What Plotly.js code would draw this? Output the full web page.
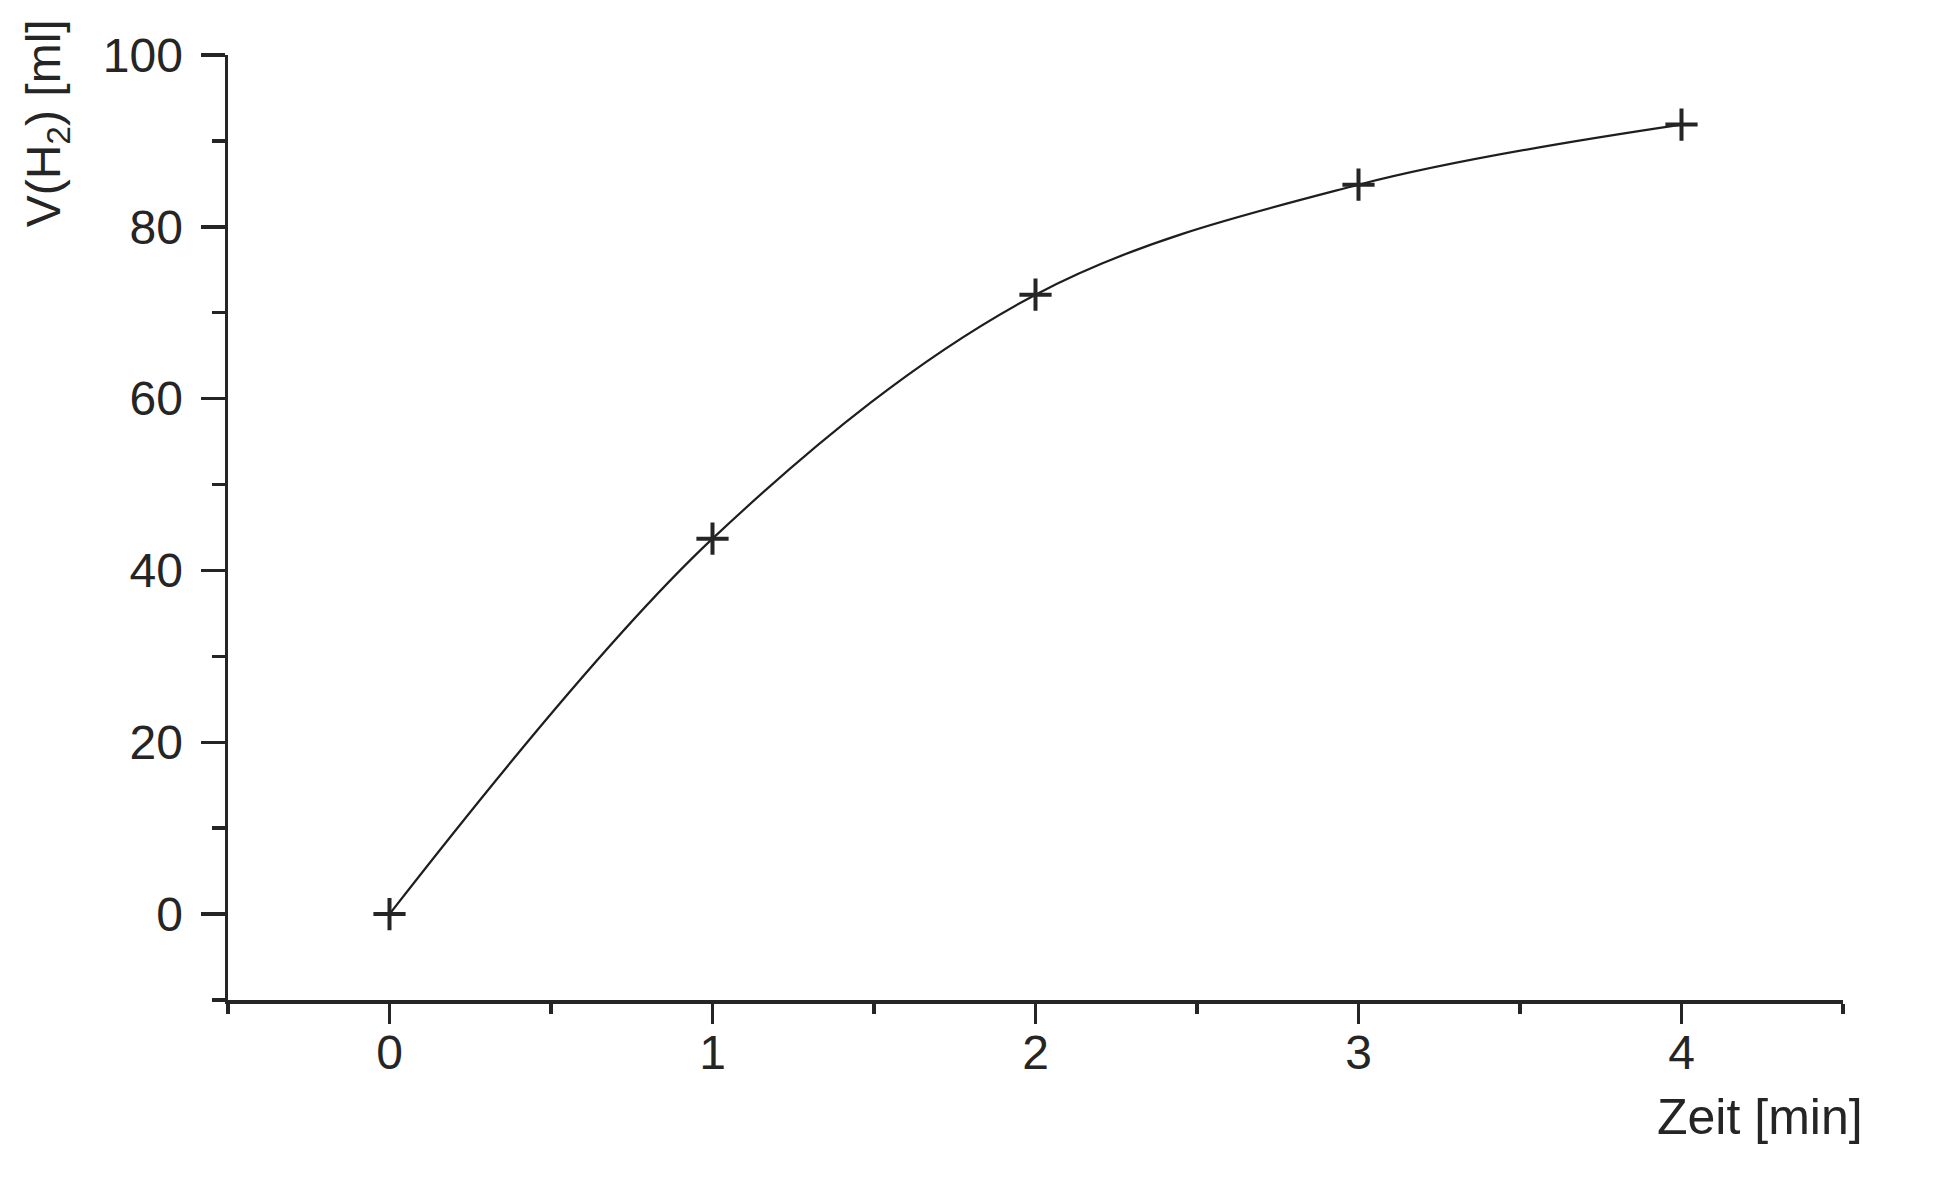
<!DOCTYPE html>
<html>
<head>
<meta charset="utf-8">
<script src="https://cdn.plot.ly/plotly-3.0.1.min.js"></script>
<style>
html,body{margin:0;padding:0;background:#fff;}
#chart{width:1936px;height:1184px;}
</style>
</head>
<body>
<div id="chart"></div>
<script>
const zeit = [0, 1, 2, 3, 4];
const volumen = [0, 43.7, 72.1, 84.9, 91.9];
const xTickVals = [0, 1, 2, 3, 4];
const yTickVals = [0, 20, 40, 60, 80, 100];
const xTitle = 'Zeit [min]';
const yTitle = 'V(H<sub>2</sub>) [ml]';

const ink = '#252525';
const font = 'Liberation Sans, Arial, sans-serif';

const trace = {
  x: zeit,
  y: volumen,
  type: 'scatter',
  mode: 'lines+markers',
  line: {shape: 'spline', smoothing: 1, color: '#1e1e1e', width: 2.2},
  marker: {symbol: 'cross-thin', size: 23, line: {color: ink, width: 4}, color: ink},
  hoverinfo: 'x+y'
};

const layout = {
  width: 1936,
  height: 1184,
  margin: {l: 228, r: 93, t: 55, b: 184},
  paper_bgcolor: '#fff',
  plot_bgcolor: '#fff',
  showlegend: false,
  font: {family: font, color: ink, size: 48},
  xaxis: {
    range: [-0.5, 4.5],
    tickvals: xTickVals,
    ticktext: xTickVals.map(String),
    ticks: 'outside',
    ticklen: 20,
    tickwidth: 3.5,
    tickcolor: ink,
    showline: true,
    linewidth: 3.5,
    linecolor: ink,
    showgrid: false,
    zeroline: false,
    tickfont: {size: 48, family: font, color: ink},
    ticklabelstandoff: -12,
    minor: {dtick: 0.5, tick0: 0, ticks: 'outside', ticklen: 10, tickwidth: 3.5, tickcolor: ink, showgrid: false}
  },
  yaxis: {
    range: [-10, 100],
    tickvals: yTickVals,
    ticktext: yTickVals.map(String),
    ticks: 'outside',
    ticklen: 24,
    tickwidth: 3.5,
    tickcolor: ink,
    showline: true,
    linewidth: 3.5,
    linecolor: ink,
    showgrid: false,
    zeroline: false,
    tickfont: {size: 48, family: font, color: ink},
    ticklabelstandoff: 8,
    minor: {dtick: 10, tick0: 0, ticks: 'outside', ticklen: 13, tickwidth: 3.5, tickcolor: ink, showgrid: false}
  },
  annotations: [
    {
      text: xTitle,
      xref: 'paper', yref: 'paper',
      x: 1.0136, y: -0.124,
      xanchor: 'right', yanchor: 'middle',
      showarrow: false,
      font: {size: 50, family: font, color: ink}
    },
    {
      text: yTitle,
      xref: 'paper', yref: 'paper',
      x: -0.112, y: 1.04,
      xanchor: 'center', yanchor: 'top',
      textangle: -90,
      showarrow: false,
      font: {size: 48, family: font, color: ink}
    }
  ]
};

Plotly.newPlot('chart', [trace], layout, {displayModeBar: false, staticPlot: true});
</script>
</body>
</html>
